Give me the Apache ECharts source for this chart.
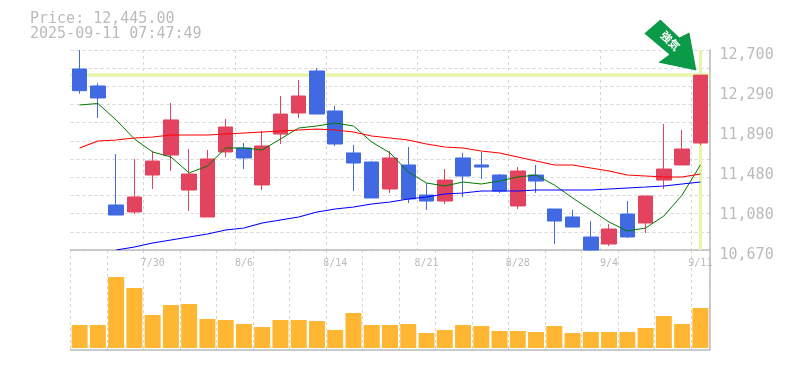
<!DOCTYPE html>
<html>
<head>
<meta charset="utf-8">
<style>
  html, body { margin: 0; padding: 0; background: #fff; }
  #chart { width: 785px; height: 370px; }
</style>
<script src="https://cdn.jsdelivr.net/npm/echarts@6/dist/echarts.min.js"></script>
</head>
<body>
<div id="chart"></div>
<script>
const dates = ['7/24','7/25','7/28','7/29','7/30','7/31','8/1','8/4','8/5','8/6','8/7','8/8','8/12','8/13','8/14','8/15','8/18','8/19','8/20','8/21','8/22','8/25','8/26','8/27','8/28','8/29','9/1','9/2','9/3','9/4','9/5','9/8','9/9','9/10','9/11']

// open, close, low, high
const candles = [
  [12507, 12287, 12256, 12700],
  [12335, 12213, 12010, 12362],
  [11127, 11025, 11025, 11644],
  [11056, 11208, 11035, 11594],
  [11431, 11573, 11289, 11675],
  [11634, 11990, 11472, 12162],
  [11279, 11441, 11066, 11695],
  [11005, 11594, 11005, 11685],
  [11665, 11918, 11614, 12000],
  [11705, 11604, 11492, 11756],
  [11330, 11726, 11279, 11878],
  [11847, 12050, 11746, 12233],
  [12061, 12233, 12010, 12396],
  [12487, 12050, 12050, 12517],
  [12081, 11746, 11726, 12132],
  [11655, 11553, 11269, 11736],
  [11563, 11198, 11198, 11573],
  [11289, 11604, 11249, 11675],
  [11533, 11188, 11147, 11715],
  [11228, 11167, 11076, 11350],
  [11167, 11380, 11137, 11492],
  [11604, 11421, 11208, 11655],
  [11533, 11512, 11391, 11665],
  [11431, 11269, 11249, 11441],
  [11117, 11472, 11086, 11512],
  [11431, 11370, 11249, 11533],
  [11086, 10964, 10731, 11086],
  [11005, 10903, 10903, 11076],
  [10802, 10670, 10663, 10964],
  [10731, 10883, 10711, 10934],
  [11035, 10802, 10792, 11167],
  [10944, 11218, 10843, 11218],
  [11380, 11492, 11289, 11949],
  [11533, 11695, 11533, 11888],
  [11756, 12445, 11736, 12445]
]

const volumes = [23, 23, 71, 60, 33, 43, 44, 29, 28, 24, 21, 28, 28, 27, 18, 35, 23, 23, 24, 15, 18, 23, 22, 17, 17, 16, 22, 15, 16, 16, 16, 20, 32, 24, 40]

const ma5 = [12142, 12157, 11990, 11797, 11665, 11614, 11452, 11523, 11705, 11705, 11685, 11797, 11908, 11929, 11959, 11929, 11766, 11655, 11462, 11350, 11320, 11360, 11340, 11370, 11411, 11431, 11330, 11198, 11076, 10954, 10863, 10893, 11015, 11228, 11533]
const ma25 = [11705, 11776, 11787, 11807, 11817, 11837, 11837, 11837, 11847, 11858, 11868, 11878, 11888, 11898, 11888, 11868, 11827, 11807, 11787, 11746, 11715, 11705, 11675, 11655, 11614, 11573, 11533, 11533, 11502, 11472, 11431, 11421, 11411, 11411, 11441]
const ma75 = [null, null, 10670, 10700, 10741, 10772, 10802, 10832, 10873, 10893, 10944, 10975, 11005, 11056, 11086, 11106, 11137, 11157, 11188, 11208, 11238, 11249, 11269, 11269, 11269, 11279, 11279, 11279, 11279, 11289, 11299, 11309, 11320, 11340, 11360]

const lastPrice = 12445
const priceGrid = [10670, 10855, 11039, 11224, 11408, 11593, 11777, 11962, 12146, 12331, 12515, 12700]
const priceTicks = [10670, 11076, 11482, 11888, 12294, 12700]
const labelDates = ['7/30', '8/6', '8/14', '8/21', '8/28', '9/4', '9/11']
const infoLines = ['Price: 12,445.00', '2025-09-11 07:47:49']
const arrowText = '強気'

const grey = '#bbbbbb'
const gridLine = { show: true, lineStyle: { color: '#d6d6d6', type: [3, 3], width: 1 } }
const mono = '"DejaVu Sans Mono", "Liberation Mono", monospace'

const myChart = echarts.init(document.getElementById('chart'), null, { renderer: 'canvas' })

myChart.setOption({
  animation: false,
  backgroundColor: '#ffffff',
  title: {
    text: infoLines.join('\n'),
    left: 30,
    top: 12,
    padding: 0,
    textStyle: { color: grey, fontFamily: mono, fontSize: 15, fontWeight: 'normal', lineHeight: 15 }
  },
  grid: [
    { left: 70.5, top: 50, width: 639, height: 200 },
    { left: 70.5, top: 250, width: 639, height: 100 }
  ],
  xAxis: [
    {
      type: 'category',
      data: dates,
      gridIndex: 0,
      axisLine: { show: true, onZero: false, lineStyle: { color: grey, width: 1.5 } },
      axisTick: { show: false },
      splitLine: gridLine,
      axisLabel: {
        color: grey,
        fontFamily: mono,
        fontSize: 10,
        margin: 8,
        hideOverlap: false,
        interval: (i, v) => labelDates.includes(v)
      }
    },
    {
      type: 'category',
      data: dates,
      gridIndex: 1,
      axisLine: { show: true, onZero: false, lineStyle: { color: grey, width: 1.5 } },
      axisTick: { show: false },
      axisLabel: { show: false },
      splitLine: gridLine
    }
  ],
  yAxis: [
    {
      type: 'value',
      gridIndex: 0,
      position: 'right',
      min: 10670,
      max: 12700,
      axisLine: { show: true, lineStyle: { color: grey, width: 1.5 } },
      axisTick: { show: false, customValues: priceGrid },
      splitLine: gridLine,
      axisLabel: {
        customValues: priceTicks,
        color: grey,
        fontFamily: mono,
        fontSize: 15,
        margin: 10,
        verticalAlign: 'top',
        lineHeight: 10,
        formatter: v => (Math.round(v / 10) * 10).toLocaleString('en-US')
      }
    },
    {
      type: 'value',
      gridIndex: 1,
      position: 'right',
      min: -2,
      max: 98,
      axisLine: { show: true, lineStyle: { color: grey, width: 1.5 } },
      axisTick: { show: false },
      axisLabel: { show: false },
      splitLine: { show: false }
    }
  ],
  series: [
    {
      type: 'candlestick',
      name: 'price',
      xAxisIndex: 0,
      yAxisIndex: 0,
      data: candles,
      barWidth: 15,
      clip: false,
      itemStyle: {
        color: '#e2435f',
        borderColor: '#e2435f',
        color0: '#4169e1',
        borderColor0: '#4169e1',
        borderWidth: 1
      },
      markLine: {
        silent: true,
        z: 1,
        symbol: 'none',
        label: { show: false },
        lineStyle: { color: '#e6f5a8', type: 'solid', width: 3.5 },
        data: [
          { yAxis: lastPrice },
          { xAxis: dates[dates.length - 1], lineStyle: { width: 3 } }
        ]
      },
      markPoint: {
        silent: true,
        data: [{
          coord: [dates[dates.length - 1], lastPrice],
          symbol: 'path://M644 34 L660 20 L679 38 L689 33 L696 71 L658 63 L669 55 Z',
          symbolSize: [52, 51],
          symbolOffset: [-30, -30],
          itemStyle: { color: '#0a9a48' },
          label: {
            show: true,
            position: 'inside',
            offset: [-3, -3],
            formatter: arrowText,
            rotate: -45,
            color: '#ffffff',
            fontSize: 11,
            fontWeight: 'bold',
            fontFamily: '"Noto Sans CJK JP"'
          }
        }]
      }
    },
    {
      type: 'line', name: 'ma5', data: ma5, showSymbol: false, symbol: 'none',
      lineStyle: { color: '#007a00', width: 1 }, z: 3
    },
    {
      type: 'line', name: 'ma25', data: ma25, showSymbol: false, symbol: 'none',
      lineStyle: { color: '#ff0000', width: 1.1 }, z: 3
    },
    {
      type: 'line', name: 'ma75', data: ma75, showSymbol: false, symbol: 'none',
      lineStyle: { color: '#0000ff', width: 1.1 }, z: 3
    },
    {
      type: 'bar',
      name: 'volume',
      xAxisIndex: 1,
      yAxisIndex: 1,
      data: volumes,
      barWidth: 16,
      itemStyle: { color: '#ffb733' }
    }
  ]
})
</script>
</body>
</html>
